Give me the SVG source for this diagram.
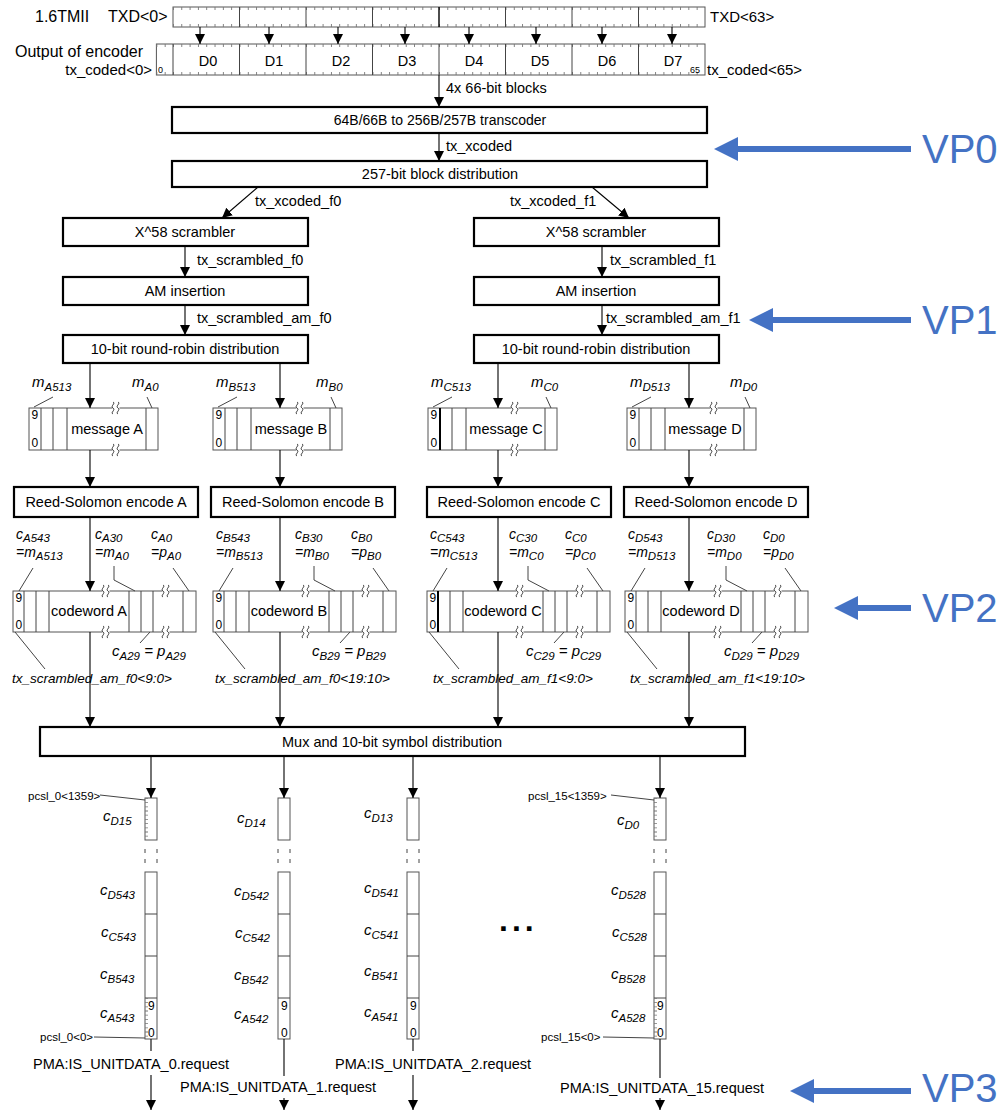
<svg xmlns="http://www.w3.org/2000/svg" width="1004" height="1110" viewBox="0 0 1004 1110">
<defs>
<marker id="ah" viewBox="0 0 10 10" refX="10" refY="5" markerWidth="10" markerHeight="11" markerUnits="userSpaceOnUse" orient="auto"><path d="M0,0 L10,5 L0,10 z" fill="#000"/></marker>
<g id="brk"><rect x="-4.5" y="-1.6" width="7" height="3.2" fill="#fff"/><path d="M-4,-6 c3,1.5 -3,4 0,6 c3,2 -3,4.5 0,6 M1,-6 c3,1.5 -3,4 0,6 c3,2 -3,4.5 0,6" fill="none" stroke="#333" stroke-width="1"/></g>
</defs>
<style>
text{font-family:"Liberation Sans",Arial,sans-serif;fill:#000}
.bx{fill:#fff;stroke:#000;stroke-width:2.2}
.tb{fill:#fff;stroke:#555;stroke-width:1}
.ln{stroke:#000;stroke-width:1.1;fill:none}
.ar{stroke:#000;stroke-width:1.1;fill:none;marker-end:url(#ah)}
.gl{stroke:#444;stroke-width:1;fill:none}
.tk{stroke:#777;stroke-width:3;fill:none;stroke-dasharray:0.9 7.4125}
.vtk{stroke:#777;stroke-width:3;fill:none;stroke-dasharray:0.8 3.4}
.t{font-size:14.5px}
.tt{font-size:15px}
.tl{font-size:16px}
.tm{font-size:14.5px;text-anchor:middle}
.it{font-size:15px;font-style:italic}
.ic{font-size:14px;font-style:italic}
.sb{font-size:11.5px}
.ts{font-size:13.5px;font-style:italic}
.sm{font-size:11.5px}
.dg{font-size:12px}
.xs{font-size:9px}
.vp{font-size:40px;fill:#4472C4}
</style>
<rect width="1004" height="1110" fill="#fff"/>

<g id="mii">
<text class="tl" x="35" y="22">1.6TMII</text>
<text class="tl" x="108" y="22">TXD&lt;0&gt;</text>
<rect class="tb" x="173" y="7" width="532" height="20"/>
<line class="tk" x1="173" y1="8.5" x2="705" y2="8.5"/>
<line class="tk" x1="173" y1="25.5" x2="705" y2="25.5"/>
<path class="gl" d="M239.5,7V27 M306,7V27 M372.5,7V27 M505.5,7V27 M572,7V27 M638.5,7V27"/>
<path d="M439,7V27" stroke="#000" stroke-width="1.4"/>
<text class="tt" x="710" y="22">TXD&lt;63&gt;</text>
</g>

<g id="encoder">
<text class="tl" x="15" y="57">Output of encoder</text>
<text class="tt" x="152" y="75" text-anchor="end">tx_coded&lt;0&gt;</text>
<rect class="tb" x="156.4" y="44" width="548.6" height="31"/>
<line class="tk" x1="156.4" y1="45.5" x2="705" y2="45.5"/>
<line class="tk" x1="156.4" y1="73.5" x2="705" y2="73.5"/>
<path class="gl" d="M173,44V75 M239.5,44V75 M306,44V75 M372.5,44V75 M439,44V75 M505.5,44V75 M572,44V75 M638.5,44V75"/>
<text class="xs" x="158" y="73">0</text>
<text class="xs" x="690" y="73">65</text>
<text class="tm" x="208" y="66">D0</text>
<text class="tm" x="274" y="66">D1</text>
<text class="tm" x="341" y="66">D2</text>
<text class="tm" x="407" y="66">D3</text>
<text class="tm" x="474" y="66">D4</text>
<text class="tm" x="540" y="66">D5</text>
<text class="tm" x="607" y="66">D6</text>
<text class="tm" x="673" y="66">D7</text>
<text class="tt" x="707" y="75">tx_coded&lt;65&gt;</text>
</g>

<g id="transcoder"><rect class="bx" x="172" y="107" width="535" height="26"/><text class="tm" x="440" y="125" style="font-size:14px">64B/66B to 256B/257B transcoder</text></g>
<g id="blockdist"><rect class="bx" x="172" y="161" width="535" height="26"/><text class="tm" x="440" y="179">257-bit block distribution</text></g>
<g id="scr0"><rect class="bx" x="63" y="218" width="245" height="28"/><text class="tm" x="185" y="237">X^58 scrambler</text></g>
<g id="scr1"><rect class="bx" x="474" y="218" width="245" height="28"/><text class="tm" x="596" y="237">X^58 scrambler</text></g>
<g id="am0"><rect class="bx" x="63" y="277" width="245" height="28"/><text class="tm" x="185" y="296">AM insertion</text></g>
<g id="am1"><rect class="bx" x="474" y="277" width="245" height="28"/><text class="tm" x="596" y="296">AM insertion</text></g>
<g id="rr0"><rect class="bx" x="63" y="335" width="245" height="28"/><text class="tm" x="185" y="354">10-bit round-robin distribution</text></g>
<g id="rr1"><rect class="bx" x="474" y="335" width="245" height="28"/><text class="tm" x="596" y="354">10-bit round-robin distribution</text></g>

<g id="msgA">
<rect class="tb" x="29" y="408" width="129" height="42"/>
<path class="gl" d="M41,408V450 M53,408V450 M67,408V450 M146,408V450"/>
<text class="dg" x="31.5" y="419">9</text><text class="dg" x="31.5" y="447">0</text>
<text class="tm" x="107" y="434">message A</text>
<use href="#brk" x="117" y="408"/><use href="#brk" x="117" y="450"/>
<text class="it" x="32" y="387">m<tspan class="sb" dy="4">A513</tspan></text>
<text class="it" x="132" y="387">m<tspan class="sb" dy="4">A0</tspan></text>
<path class="gl" d="M34,407L53,397 M152,408L147,397"/>
</g>
<g id="msgB" transform="translate(184,0)">
<rect class="tb" x="29" y="408" width="129" height="42"/>
<path class="gl" d="M41,408V450 M53,408V450 M67,408V450 M146,408V450"/>
<text class="dg" x="31.5" y="419">9</text><text class="dg" x="31.5" y="447">0</text>
<text class="tm" x="107" y="434">message B</text>
<use href="#brk" x="117" y="408"/><use href="#brk" x="117" y="450"/>
<text class="it" x="32" y="387">m<tspan class="sb" dy="4">B513</tspan></text>
<text class="it" x="132" y="387">m<tspan class="sb" dy="4">B0</tspan></text>
<path class="gl" d="M34,407L53,397 M152,408L147,397"/>
</g>
<g id="msgC" transform="translate(399,0)">
<rect class="tb" x="29" y="408" width="129" height="42"/>
<path class="gl" d="M53,408V450 M67,408V450 M146,408V450"/>
<path d="M41,408V450" stroke="#000" stroke-width="2"/>
<text class="dg" x="31.5" y="419">9</text><text class="dg" x="31.5" y="447">0</text>
<text class="tm" x="107" y="434">message C</text>
<use href="#brk" x="117" y="408"/><use href="#brk" x="117" y="450"/>
<text class="it" x="32" y="387">m<tspan class="sb" dy="4">C513</tspan></text>
<text class="it" x="132" y="387">m<tspan class="sb" dy="4">C0</tspan></text>
<path class="gl" d="M34,407L53,397 M152,408L147,397"/>
</g>
<g id="msgD" transform="translate(598,0)">
<rect class="tb" x="29" y="408" width="129" height="42"/>
<path class="gl" d="M41,408V450 M53,408V450 M67,408V450 M146,408V450"/>
<text class="dg" x="31.5" y="419">9</text><text class="dg" x="31.5" y="447">0</text>
<text class="tm" x="107" y="434">message D</text>
<use href="#brk" x="117" y="408"/><use href="#brk" x="117" y="450"/>
<text class="it" x="32" y="387">m<tspan class="sb" dy="4">D513</tspan></text>
<text class="it" x="132" y="387">m<tspan class="sb" dy="4">D0</tspan></text>
<path class="gl" d="M34,407L53,397 M152,408L147,397"/>
</g>

<g id="rsA"><rect class="bx" x="14" y="487" width="184" height="30"/><text class="tm" x="106" y="507">Reed-Solomon encode A</text></g>
<g id="rsB"><rect class="bx" x="211" y="487" width="184" height="30"/><text class="tm" x="303" y="507">Reed-Solomon encode B</text></g>
<g id="rsC"><rect class="bx" x="427" y="487" width="184" height="30"/><text class="tm" x="519" y="507">Reed-Solomon encode C</text></g>
<g id="rsD"><rect class="bx" x="624" y="487" width="184" height="30"/><text class="tm" x="716" y="507">Reed-Solomon encode D</text></g>

<g id="cwA">
<rect class="tb" x="13" y="591" width="183" height="41"/>
<path class="gl" d="M24,591V632 M36,591V632 M49,591V632 M129,591V632 M141,591V632 M153,591V632 M183,591V632"/>
<text class="dg" x="15.5" y="602">9</text><text class="dg" x="15.5" y="629">0</text>
<text class="tm" x="89" y="616">codeword A</text>
<use href="#brk" x="107" y="591"/><use href="#brk" x="107" y="632"/><use href="#brk" x="167" y="591"/><use href="#brk" x="167" y="632"/>
<text class="ic" x="16" y="539">c<tspan class="sb" dy="3">A543</tspan></text>
<text class="ic" x="16" y="557">=m<tspan class="sb" dy="3">A513</tspan></text>
<text class="ic" x="95" y="539">c<tspan class="sb" dy="3">A30</tspan></text>
<text class="ic" x="95" y="557">=m<tspan class="sb" dy="3">A0</tspan></text>
<text class="ic" x="151" y="539">c<tspan class="sb" dy="3">A0</tspan></text>
<text class="ic" x="151" y="557">=p<tspan class="sb" dy="3">A0</tspan></text>
<text class="it" x="112" y="656">c<tspan class="sb" dy="4">A29</tspan><tspan dy="-4"> = p</tspan><tspan class="sb" dy="4">A29</tspan></text>
<text class="ts" x="12" y="683">tx_scrambled_am_f0&lt;9:0&gt;</text>
<path class="gl" d="M33,568L19,591 M114,566V580L135,591 M173,568L189,591 M140,643L150,632 M15,632L45,669"/>
</g>
<g id="cwB" transform="translate(200,0)">
<rect class="tb" x="13" y="591" width="183" height="41"/>
<path class="gl" d="M24,591V632 M36,591V632 M49,591V632 M129,591V632 M141,591V632 M153,591V632 M183,591V632"/>
<text class="dg" x="15.5" y="602">9</text><text class="dg" x="15.5" y="629">0</text>
<text class="tm" x="89" y="616">codeword B</text>
<use href="#brk" x="107" y="591"/><use href="#brk" x="107" y="632"/><use href="#brk" x="167" y="591"/><use href="#brk" x="167" y="632"/>
<text class="ic" x="16" y="539">c<tspan class="sb" dy="3">B543</tspan></text>
<text class="ic" x="16" y="557">=m<tspan class="sb" dy="3">B513</tspan></text>
<text class="ic" x="95" y="539">c<tspan class="sb" dy="3">B30</tspan></text>
<text class="ic" x="95" y="557">=m<tspan class="sb" dy="3">B0</tspan></text>
<text class="ic" x="151" y="539">c<tspan class="sb" dy="3">B0</tspan></text>
<text class="ic" x="151" y="557">=p<tspan class="sb" dy="3">B0</tspan></text>
<text class="it" x="112" y="656">c<tspan class="sb" dy="4">B29</tspan><tspan dy="-4"> = p</tspan><tspan class="sb" dy="4">B29</tspan></text>
<text class="ts" x="15" y="683">tx_scrambled_am_f0&lt;19:10&gt;</text>
<path class="gl" d="M33,568L19,591 M114,566V580L135,591 M173,568L189,591 M140,643L150,632 M15,632L45,669"/>
</g>
<g id="cwC" transform="translate(414,0)">
<rect class="tb" x="13" y="591" width="183" height="41"/>
<path class="gl" d="M36,591V632 M49,591V632 M129,591V632 M141,591V632 M153,591V632 M183,591V632"/>
<path d="M24,591V632" stroke="#000" stroke-width="2"/>
<text class="dg" x="15.5" y="602">9</text><text class="dg" x="15.5" y="629">0</text>
<text class="tm" x="89" y="616">codeword C</text>
<use href="#brk" x="107" y="591"/><use href="#brk" x="107" y="632"/><use href="#brk" x="167" y="591"/><use href="#brk" x="167" y="632"/>
<text class="ic" x="16" y="539">c<tspan class="sb" dy="3">C543</tspan></text>
<text class="ic" x="16" y="557">=m<tspan class="sb" dy="3">C513</tspan></text>
<text class="ic" x="95" y="539">c<tspan class="sb" dy="3">C30</tspan></text>
<text class="ic" x="95" y="557">=m<tspan class="sb" dy="3">C0</tspan></text>
<text class="ic" x="151" y="539">c<tspan class="sb" dy="3">C0</tspan></text>
<text class="ic" x="151" y="557">=p<tspan class="sb" dy="3">C0</tspan></text>
<text class="it" x="112" y="656">c<tspan class="sb" dy="4">C29</tspan><tspan dy="-4"> = p</tspan><tspan class="sb" dy="4">C29</tspan></text>
<text class="ts" x="19" y="683">tx_scrambled_am_f1&lt;9:0&gt;</text>
<path class="gl" d="M33,568L19,591 M114,566V580L135,591 M173,568L189,591 M140,643L150,632 M15,632L45,669"/>
</g>
<g id="cwD" transform="translate(612,0)">
<rect class="tb" x="13" y="591" width="183" height="41"/>
<path class="gl" d="M24,591V632 M36,591V632 M49,591V632 M129,591V632 M141,591V632 M153,591V632 M183,591V632"/>
<text class="dg" x="15.5" y="602">9</text><text class="dg" x="15.5" y="629">0</text>
<text class="tm" x="89" y="616">codeword D</text>
<use href="#brk" x="107" y="591"/><use href="#brk" x="107" y="632"/><use href="#brk" x="167" y="591"/><use href="#brk" x="167" y="632"/>
<text class="ic" x="16" y="539">c<tspan class="sb" dy="3">D543</tspan></text>
<text class="ic" x="16" y="557">=m<tspan class="sb" dy="3">D513</tspan></text>
<text class="ic" x="95" y="539">c<tspan class="sb" dy="3">D30</tspan></text>
<text class="ic" x="95" y="557">=m<tspan class="sb" dy="3">D0</tspan></text>
<text class="ic" x="151" y="539">c<tspan class="sb" dy="3">D0</tspan></text>
<text class="ic" x="151" y="557">=p<tspan class="sb" dy="3">D0</tspan></text>
<text class="it" x="112" y="656">c<tspan class="sb" dy="4">D29</tspan><tspan dy="-4"> = p</tspan><tspan class="sb" dy="4">D29</tspan></text>
<text class="ts" x="18" y="683">tx_scrambled_am_f1&lt;19:10&gt;</text>
<path class="gl" d="M33,568L19,591 M114,566V580L135,591 M173,568L189,591 M140,643L150,632 M15,632L45,669"/>
</g>

<g id="mux"><rect class="bx" x="40" y="727" width="705" height="29"/><text class="tm" x="392" y="747">Mux and 10-bit symbol distribution</text></g>

<g id="lane0">
<rect class="tb" x="145" y="798" width="12" height="42"/>
<path class="gl" d="M145,849V853 M145,859V863 M157,849V853 M157,859V863"/>
<rect class="tb" x="145" y="872" width="12" height="167"/>
<path class="gl" d="M145,914H157 M145,956H157 M145,998H157"/>
<line class="vtk" x1="146.5" y1="798" x2="146.5" y2="840"/>
<line class="vtk" x1="146.5" y1="998" x2="146.5" y2="1039"/>
<text class="dg" x="148" y="1010">9</text><text class="dg" x="148" y="1037">0</text>
<text class="sm" x="28" y="800">pcsl_0&lt;1359&gt;</text>
<text class="sm" x="40" y="1041">pcsl_0&lt;0&gt;</text>
<path class="gl" d="M100,795L145,800 M94,1037L145,1038"/>
<text class="it" x="103" y="821">c<tspan class="sb" dy="4">D15</tspan></text>
<text class="it" x="100" y="895">c<tspan class="sb" dy="4">D543</tspan></text>
<text class="it" x="101" y="937">c<tspan class="sb" dy="4">C543</tspan></text>
<text class="it" x="100" y="979">c<tspan class="sb" dy="4">B543</tspan></text>
<text class="it" x="100" y="1018">c<tspan class="sb" dy="4">A543</tspan></text>
<text class="t" x="33" y="1069">PMA:IS_UNITDATA_0.request</text>
</g>
<g id="lane1">
<rect class="tb" x="278" y="798" width="12" height="42"/>
<path class="gl" d="M278,849V853 M278,859V863 M290,849V853 M290,859V863"/>
<rect class="tb" x="278" y="872" width="12" height="167"/>
<path class="gl" d="M278,914H290 M278,956H290 M278,998H290"/>
<text class="dg" x="281" y="1010">9</text><text class="dg" x="281" y="1037">0</text>
<text class="it" x="237" y="823">c<tspan class="sb" dy="4">D14</tspan></text>
<text class="it" x="234" y="896">c<tspan class="sb" dy="4">D542</tspan></text>
<text class="it" x="235" y="938">c<tspan class="sb" dy="4">C542</tspan></text>
<text class="it" x="234" y="980">c<tspan class="sb" dy="4">B542</tspan></text>
<text class="it" x="234" y="1019">c<tspan class="sb" dy="4">A542</tspan></text>
<text class="t" x="180" y="1092">PMA:IS_UNITDATA_1.request</text>
</g>
<g id="lane2">
<rect class="tb" x="407" y="798" width="12" height="42"/>
<path class="gl" d="M407,849V853 M407,859V863 M419,849V853 M419,859V863"/>
<rect class="tb" x="407" y="872" width="12" height="167"/>
<path class="gl" d="M407,914H419 M407,956H419 M407,998H419"/>
<text class="dg" x="410" y="1010">9</text><text class="dg" x="410" y="1037">0</text>
<text class="it" x="364" y="818">c<tspan class="sb" dy="4">D13</tspan></text>
<text class="it" x="364" y="893">c<tspan class="sb" dy="4">D541</tspan></text>
<text class="it" x="364" y="935">c<tspan class="sb" dy="4">C541</tspan></text>
<text class="it" x="364" y="976">c<tspan class="sb" dy="4">B541</tspan></text>
<text class="it" x="364" y="1017">c<tspan class="sb" dy="4">A541</tspan></text>
<text class="t" x="335" y="1069">PMA:IS_UNITDATA_2.request</text>
</g>
<g id="ellipsis"><text x="499" y="931" font-size="32" font-weight="bold" letter-spacing="4">...</text></g>
<g id="lane15">
<rect class="tb" x="654" y="798" width="12" height="42"/>
<path class="gl" d="M654,849V853 M654,859V863 M666,849V853 M666,859V863"/>
<rect class="tb" x="654" y="872" width="12" height="167"/>
<path class="gl" d="M654,914H666 M654,956H666 M654,998H666"/>
<line class="vtk" x1="655.5" y1="798" x2="655.5" y2="840"/>
<line class="vtk" x1="655.5" y1="998" x2="655.5" y2="1039"/>
<text class="dg" x="657" y="1010">9</text><text class="dg" x="657" y="1037">0</text>
<text class="sm" x="528" y="800">pcsl_15&lt;1359&gt;</text>
<text class="sm" x="541" y="1041">pcsl_15&lt;0&gt;</text>
<path class="gl" d="M611,795L654,800 M603,1037L654,1038"/>
<text class="it" x="617" y="825">c<tspan class="sb" dy="4">D0</tspan></text>
<text class="it" x="611" y="895">c<tspan class="sb" dy="4">D528</tspan></text>
<text class="it" x="612" y="937">c<tspan class="sb" dy="4">C528</tspan></text>
<text class="it" x="611" y="979">c<tspan class="sb" dy="4">B528</tspan></text>
<text class="it" x="611" y="1018">c<tspan class="sb" dy="4">A528</tspan></text>
<text class="t" x="560" y="1093">PMA:IS_UNITDATA_15.request</text>
</g>

<g id="connectors">
<path class="ar" d="M200,27V44"/><path class="ar" d="M269,27V44"/><path class="ar" d="M338,27V44"/><path class="ar" d="M405,27V44"/>
<path class="ar" d="M469,27V44"/><path class="ar" d="M536,27V44"/><path class="ar" d="M602,27V44"/><path class="ar" d="M672,27V44"/>
<path class="ar" d="M439,75V107"/>
<text class="t" x="446" y="93">4x 66-bit blocks</text>
<path class="ar" d="M439,133V161"/>
<text class="t" x="446" y="151">tx_xcoded</text>
<path class="ar" d="M258,187L222,218"/>
<text class="t" x="255" y="206">tx_xcoded_f0</text>
<path class="ar" d="M592,187L629,218"/>
<text class="t" x="510" y="206">tx_xcoded_f1</text>
<path class="ar" d="M185,246V277"/>
<text class="t" x="197" y="265">tx_scrambled_f0</text>
<path class="ar" d="M602,246V277"/>
<text class="t" x="610" y="265">tx_scrambled_f1</text>
<path class="ar" d="M185,305V335"/>
<text class="t" x="197" y="323">tx_scrambled_am_f0</text>
<path class="ar" d="M602,305V335"/>
<text class="t" x="606" y="323">tx_scrambled_am_f1</text>
<path class="ar" d="M90,363V408"/><path class="ar" d="M280,363V408"/><path class="ar" d="M498,363V408"/><path class="ar" d="M689,363V408"/>
<path class="ar" d="M90,450V487"/><path class="ar" d="M280,450V487"/><path class="ar" d="M498,450V487"/><path class="ar" d="M689,450V487"/>
<path class="ar" d="M90,517V591"/><path class="ar" d="M280,517V591"/><path class="ar" d="M498,517V591"/><path class="ar" d="M689,517V591"/>
<path class="ar" d="M90,632V727"/><path class="ar" d="M280,632V727"/><path class="ar" d="M498,632V727"/><path class="ar" d="M689,632V727"/>
<path class="ar" d="M151,756V798"/><path class="ar" d="M284,756V798"/><path class="ar" d="M413,756V798"/><path class="ar" d="M660,756V798"/>
<path class="ln" d="M151,1039V1051"/><path class="ar" d="M151,1075V1110"/>
<path class="ln" d="M284,1039V1076"/><path class="ar" d="M284,1098V1110"/>
<path class="ln" d="M413,1039V1051"/><path class="ar" d="M413,1075V1110"/>
<path class="ln" d="M660,1039V1078"/><path class="ar" d="M660,1098V1110"/>
</g>

<g id="vp0"><line x1="911" y1="149" x2="734" y2="149" stroke="#4472C4" stroke-width="6"/><polygon points="714,149 738,137 738,161" fill="#4472C4"/><text class="vp" x="922" y="163">VP0</text></g>
<g id="vp1"><line x1="911" y1="320" x2="769" y2="320" stroke="#4472C4" stroke-width="6"/><polygon points="749,320 773,308 773,332" fill="#4472C4"/><text class="vp" x="922" y="334">VP1</text></g>
<g id="vp2"><line x1="911" y1="608" x2="854" y2="608" stroke="#4472C4" stroke-width="6"/><polygon points="834,608 858,596 858,620" fill="#4472C4"/><text class="vp" x="922" y="622">VP2</text></g>
<g id="vp3"><line x1="911" y1="1091" x2="810" y2="1091" stroke="#4472C4" stroke-width="6"/><polygon points="790,1091 814,1079 814,1103" fill="#4472C4"/><text class="vp" x="922" y="1102">VP3</text></g>
</svg>
